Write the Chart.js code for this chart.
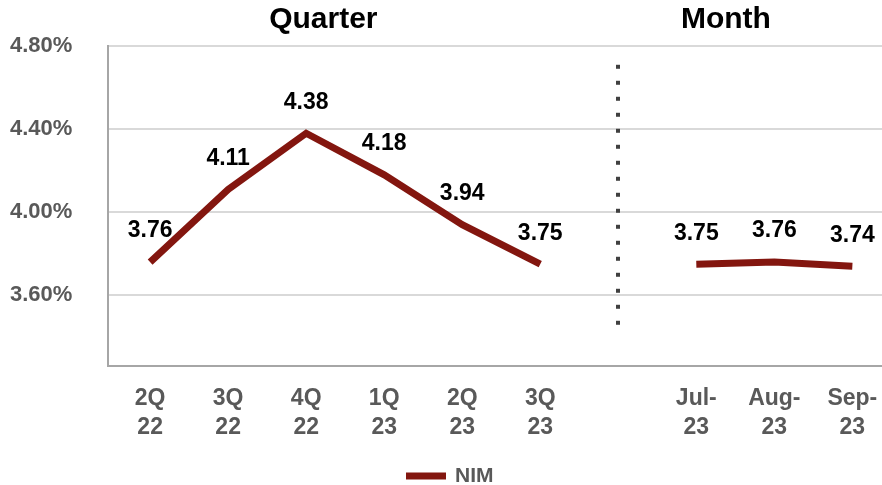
<!DOCTYPE html>
<html>
<head>
<meta charset="utf-8">
<script src="https://cdn.jsdelivr.net/npm/chart.js@4.4.0/dist/chart.umd.min.js"></script>
<style>
html,body{margin:0;padding:0;background:#fff;}
#wrap{width:882px;height:485px;position:relative;}
</style>
</head>
<body>
<div id="wrap"><canvas id="c"></canvas></div>
<script>
const xLabels = [['2Q','22'],['3Q','22'],['4Q','22'],['1Q','23'],['2Q','23'],['3Q','23'],null,['Jul-','23'],['Aug-','23'],['Sep-','23']];
const nimValues = [3.76, 4.11, 4.38, 4.18, 3.94, 3.75, null, 3.75, 3.76, 3.74];
const yTickValues = [3.6, 4.0, 4.4, 4.8];
const groupTitles = ['Quarter', 'Month'];
const seriesName = 'NIM';

const LINE = '#83160f';
const GREY = '#595959';
const FONT = '"Liberation Sans", Arial, sans-serif';

const points = nimValues.map((v, i) => ({x: i, y: v}));

const overlay = {
  id: 'overlay',
  afterDatasetsDraw(chart) {
    const ctx = chart.ctx;
    const xs = chart.scales.x, ys = chart.scales.y;
    ctx.save();
    // divider (dotted)
    const gapIdx = xLabels.indexOf(null);
    const dx = Math.round(xs.getPixelForValue(gapIdx));
    const yTop = ys.getPixelForValue(4.70), yBot = ys.getPixelForValue(3.40);
    ctx.fillStyle = '#404040';
    for (let y = yTop; y <= yBot + 1; y += 16) {
      ctx.fillRect(dx - 2, y - 2, 4, 4);
    }
    // data labels
    ctx.fillStyle = '#000';
    ctx.font = 'bold 23px ' + FONT;
    ctx.textAlign = 'center';
    ctx.textBaseline = 'middle';
    const meta = chart.getDatasetMeta(0);
    meta.data.forEach((pt, i) => {
      const v = nimValues[i];
      if (v === null) return;
      ctx.fillText(v.toFixed(2), pt.x, pt.y - 31);
    });
    // group titles
    ctx.font = 'bold 30px ' + FONT;
    ctx.fillText(groupTitles[0], xs.getPixelForValue(2.22), 20);
    ctx.fillText(groupTitles[1], xs.getPixelForValue(7.38), 20);
    // legend
    const cy = chart.height - 9;
    const lx = chart.width / 2 - 35;
    ctx.fillStyle = LINE;
    ctx.fillRect(lx, cy - 3.5, 40, 7);
    ctx.fillStyle = GREY;
    ctx.font = 'bold 21px ' + FONT;
    ctx.textAlign = 'left';
    ctx.fillText(seriesName, lx + 49, cy);
    ctx.restore();
  }
};

new Chart(document.getElementById('c'), {
  type: 'line',
  data: {
    datasets: [{
      label: seriesName,
      data: points,
      borderColor: LINE,
      backgroundColor: LINE,
      borderWidth: 7,
      pointRadius: 0,
      tension: 0,
      spanGaps: false,
      borderJoinStyle: 'miter',
      borderCapStyle: 'butt'
    }]
  },
  options: {
    responsive: true,
    maintainAspectRatio: false,
    animation: false,
    layout: {padding: {top: 46, left: 10, right: 0, bottom: 37}},
    scales: {
      x: {
        type: 'linear',
        min: -0.54,
        max: 9.38,
        afterBuildTicks(scale) {
          scale.ticks = xLabels.map((l, i) => l ? {value: i} : null).filter(Boolean);
        },
        afterFit(scale) {
          scale.height = 82;
          scale.paddingLeft = 0;
          scale.paddingRight = 0;
        },
        grid: {display: false, drawTicks: false},
        border: {display: true, color: '#a6a6a6', width: 2},
        ticks: {
          autoSkip: false,
          maxRotation: 0,
          padding: 18,
          color: GREY,
          font: {family: FONT, size: 23, weight: 'bold', lineHeight: 1.26},
          callback: (v) => xLabels[v] || ''
        }
      },
      y: {
        min: 3.26,
        max: 4.8,
        afterBuildTicks(scale) {
          scale.ticks = yTickValues.map(v => ({value: v}));
        },
        afterFit(scale) { scale.width = 98; },
        grid: {color: '#d9d9d9', lineWidth: 2, drawTicks: false},
        border: {display: true, color: '#a6a6a6', width: 2},
        ticks: {
          crossAlign: 'far',
          padding: 0,
          color: GREY,
          font: {family: FONT, size: 22, weight: 'bold'},
          callback: (v) => v.toFixed(2) + '%'
        }
      }
    },
    plugins: {
      legend: {display: false},
      tooltip: {enabled: false}
    }
  },
  plugins: [overlay]
});
</script>
</body>
</html>
